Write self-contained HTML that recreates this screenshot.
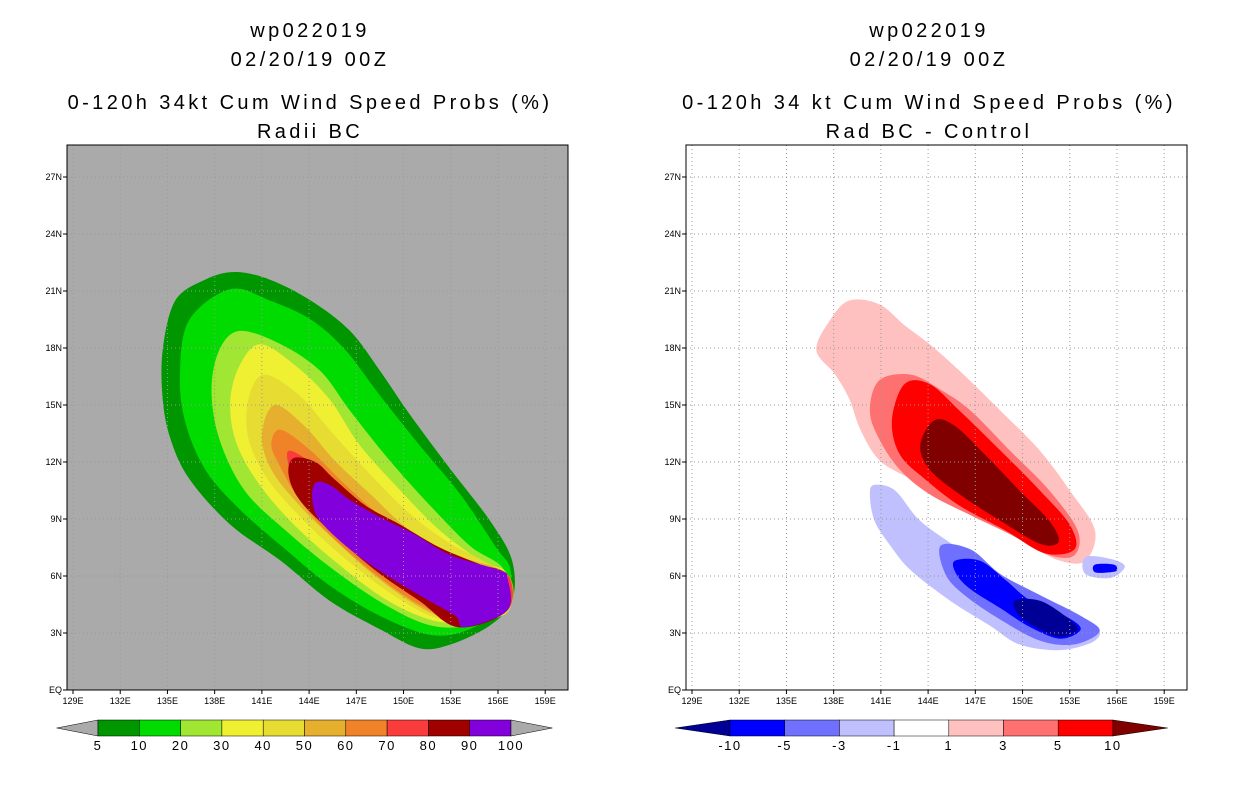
<!DOCTYPE html>
<html><head><meta charset="utf-8"><style>
body{margin:0;background:#fff;width:1236px;height:800px;overflow:hidden}
svg{display:block}
text{font-family:"Liberation Sans",sans-serif}
</style></head><body>
<svg id="chart" width="1236" height="800"></svg>
<script>
const lonTicks=[129,132,135,138,141,144,147,150,153,156,159];
const latTicks=[0,3,6,9,12,15,18,21,24,27];
const lonTickLabels=["129E","132E","135E","138E","141E","144E","147E","150E","153E","156E","159E"];
const latTickLabels=["EQ","3N","6N","9N","12N","15N","18N","21N","24N","27N"];
const leftLevels=["5","10","20","30","40","50","60","70","80","90","100"];
const rightLevels=["-10","-5","-3","-1","1","3","5","10"];
const leftColors=["#009600","#00dc00","#a0e632","#f0f032","#e6dc32","#e6af2d","#f08228","#fa3c3c","#a00000","#8200dc"];
const rightColors=["#000096","#0000ff","#7070ff","#c0c0ff","#ffffff","#ffc0c0","#ff7070","#ff0000","#800000"];
const p5=[[139.3,22.0],[141.5,21.6],[144.1,20.5],[146.6,18.9],[148.5,16.8],[150.4,14.5],[153.0,11.6],[155.5,8.9],[156.9,6.8],[156.9,4.7],[155.5,3.4],[153.0,2.4],[151.0,2.2],[148.5,3.2],[145.3,4.7],[142.2,6.8],[139.0,8.7],[136.4,11.1],[135.2,13.2],[134.7,15.3],[134.7,17.9],[135.5,20.5],[137.4,21.6]];
const p10=[[139.0,21.1],[141.5,20.5],[144.1,19.5],[146.3,17.9],[148.5,15.5],[151.0,12.9],[153.6,10.3],[155.8,7.6],[156.8,6.3],[156.4,4.5],[154.2,3.2],[151.7,2.9],[148.5,3.9],[145.3,5.5],[142.5,7.4],[139.6,9.5],[137.4,11.6],[136.1,14.2],[135.8,16.8],[136.4,19.5]];
const p20=[[139.6,18.9],[142.2,18.2],[144.7,16.8],[146.6,14.7],[149.1,12.1],[151.7,9.7],[154.2,7.6],[156.4,6.3],[156.4,4.2],[154.2,3.4],[151.7,3.4],[148.8,4.5],[145.6,6.3],[142.5,8.4],[139.9,10.5],[138.3,13.2],[137.8,15.8],[138.3,17.9]];
const p30=[[140.9,18.2],[143.1,17.1],[145.3,15.3],[147.2,12.9],[149.8,10.5],[152.3,8.4],[154.9,6.8],[156.6,6.1],[156.6,4.1],[153.9,3.6],[151.7,3.7],[148.8,4.8],[145.6,6.8],[142.8,8.9],[140.6,11.1],[139.3,13.2],[139.0,15.3],[139.6,17.1]];
const p40=[[141.2,16.6],[143.4,15.5],[145.3,13.7],[147.6,11.6],[150.1,9.5],[152.6,7.9],[155.5,6.6],[156.6,5.9],[156.6,4.1],[153.6,3.7],[151.7,3.9],[148.8,5.3],[145.6,7.4],[143.1,9.4],[141.2,11.3],[140.1,13.4],[140.2,15.5]];
const p50=[[141.8,15.0],[143.7,13.9],[145.6,12.1],[147.9,10.3],[150.4,8.4],[153.3,7.1],[156.6,6.1],[156.6,4.2],[153.6,3.7],[151.4,4.2],[148.5,5.8],[145.6,7.9],[143.4,9.7],[141.6,11.6],[141.0,13.4]];
const p60=[[142.2,13.7],[144.1,12.6],[146.3,10.8],[148.5,9.2],[151.0,7.9],[153.9,6.8],[156.6,6.1],[156.6,4.2],[153.6,3.7],[151.0,4.5],[148.2,6.1],[145.3,8.2],[143.4,10.0],[142.2,11.7],[141.6,12.9]];
const p70=[[142.8,12.6],[144.7,11.6],[146.6,10.0],[149.1,8.7],[151.7,7.5],[154.2,6.6],[156.6,6.1],[156.6,4.2],[153.6,3.8],[151.0,4.7],[147.9,6.6],[145.0,8.7],[143.3,10.5],[142.7,11.8]];
const p80=[[143.0,12.2],[144.4,12.0],[145.6,11.1],[147.6,9.7],[149.8,8.7],[152.3,7.5],[154.9,6.6],[156.4,6.1],[156.6,4.2],[153.5,3.3],[151.0,4.7],[148.2,6.3],[145.3,8.4],[143.4,10.0],[142.7,11.3]];
const p90=[[144.4,10.9],[145.3,10.8],[146.6,10.0],[148.5,9.1],[150.7,8.2],[153.0,7.1],[156.1,6.3],[156.6,5.9],[156.6,4.2],[153.9,3.3],[153.3,3.9],[151.4,4.8],[148.8,6.1],[146.6,7.4],[144.7,8.9],[144.2,10.0]];
const r1=[[139.0,20.5],[140.9,20.3],[142.5,19.2],[144.1,18.2],[146.0,16.8],[148.6,14.7],[151.1,12.6],[153.0,10.5],[154.6,8.4],[154.0,6.8],[152.4,6.8],[150.5,7.6],[147.9,8.9],[145.4,10.0],[142.9,11.1],[140.9,12.1],[139.7,13.7],[139.0,15.3],[138.1,16.6],[136.9,17.9],[137.8,19.5]];
const r3=[[140.9,16.3],[142.9,16.6],[144.8,15.8],[146.7,14.7],[149.2,12.6],[151.7,10.5],[153.5,8.4],[153.3,7.1],[151.7,7.1],[149.2,8.2],[146.7,9.2],[144.1,10.3],[142.2,11.6],[140.9,13.2],[140.3,14.7]];
const r5=[[142.5,16.1],[144.1,16.1],[146.0,14.7],[148.6,12.6],[151.1,10.5],[153.0,8.7],[153.3,7.4],[151.4,7.2],[148.9,8.4],[146.0,9.7],[143.8,11.1],[142.2,12.4],[141.7,14.2]];
const r10=[[144.4,14.2],[145.7,13.9],[147.6,12.4],[149.8,10.5],[151.7,8.9],[152.3,7.8],[151.1,7.7],[148.6,8.9],[146.0,10.3],[144.1,11.6],[143.5,12.9]];
const b1=[[140.6,10.8],[141.9,10.5],[143.5,8.9],[146.0,7.4],[148.6,5.8],[151.7,4.7],[154.6,3.4],[154.6,2.6],[152.4,2.1],[149.8,2.4],[147.9,3.4],[145.4,4.7],[142.9,6.3],[141.6,7.6],[140.6,8.9],[140.3,10.3]];
const b1s=[[154.0,7.0],[155.6,6.9],[156.5,6.5],[155.6,5.9],[154.0,6.1]];
const b5s=[[154.6,6.6],[155.8,6.6],[156.0,6.3],[155.6,6.2],[154.6,6.2]];
const b3=[[144.8,7.6],[146.7,7.4],[148.6,6.1],[151.1,5.0],[153.7,3.9],[154.9,3.1],[153.3,2.4],[151.1,2.6],[148.6,3.7],[146.3,5.0],[145.1,6.1]];
const b5=[[145.7,6.8],[147.3,6.8],[148.9,5.8],[150.5,4.7],[152.7,3.9],[153.7,3.2],[152.4,2.7],[150.5,3.3],[148.6,4.3],[146.7,5.3],[145.8,6.1]];
const b10=[[149.5,4.7],[151.1,4.7],[152.7,3.9],[153.5,3.2],[152.4,2.8],[151.1,3.2],[149.8,3.9]];

const NS="http://www.w3.org/2000/svg";
const svg=document.getElementById('chart');
function mk(tag,attrs,parent){const e=document.createElementNS(NS,tag);for(const k in attrs)e.setAttribute(k,attrs[k]);(parent||svg).appendChild(e);return e;}
function xScale(lon,off){return off+73+(lon-129)*15.74;}
function yScale(lat){return 690-lat*19;}
function smoothPath(pts,off){
  const P=pts.map(p=>[xScale(p[0],off),yScale(p[1])]);const n=P.length;let d=`M${P[0][0]},${P[0][1]}`;
  for(let i=0;i<n;i++){const p0=P[(i-1+n)%n],p1=P[i],p2=P[(i+1)%n],p3=P[(i+2)%n];
    const c1=[p1[0]+(p2[0]-p0[0])/6,p1[1]+(p2[1]-p0[1])/6],c2=[p2[0]-(p3[0]-p1[0])/6,p2[1]-(p3[1]-p1[1])/6];
    d+=`C${c1[0]},${c1[1]} ${c2[0]},${c2[1]} ${p2[0]},${p2[1]}`;}
  return d+'Z';}

function panel(off,bg,layers,title2,title4,names){
  const g=mk('g',{});
  
  
  const t=[["wp022019",37],["02/20/19 00Z",66],[title2,109],[title4,138]];
  t.forEach((tt,i)=>{const e=mk('text',{x:off+310,y:tt[1],'text-anchor':'middle','font-size':'20','letter-spacing':'3.4',fill:'#000'},g);e.textContent=tt[0];
    
    });
  const cp=mk('clipPath',{id:'cp'+off},g);mk('rect',{x:off+67,y:145,width:501,height:545},cp);
  const bgR=mk('rect',{x:off+67,y:145,width:501,height:545,fill:bg},g);
  
  
  const lg=mk('g',{'clip-path':`url(#cp${off})`},g);
  layers.forEach((L,i)=>{const p=mk('path',{d:smoothPath(L[0],off),fill:L[1]},lg);
    
    });
  lonTicks.forEach((lon,i)=>{const x=xScale(lon,off);
    mk('line',{x1:x,y1:145,x2:x,y2:690,stroke:'#999','stroke-dasharray':'1,3','stroke-width':1},g);
    mk('line',{x1:x,y1:690,x2:x,y2:694,stroke:'#000'},g);
    const e=mk('text',{x:x,y:704,'text-anchor':'middle','font-size':'9'},g);e.textContent=lonTickLabels[i];
    
    });
  latTicks.forEach((lat,i)=>{const y=yScale(lat);
    if(lat>0)mk('line',{x1:off+67,y1:y,x2:off+568,y2:y,stroke:'#999','stroke-dasharray':'1,3','stroke-width':1},g);
    mk('line',{x1:off+63,y1:y,x2:off+67,y2:y,stroke:'#000'},g);
    const e=mk('text',{x:off+62,y:y+3,'text-anchor':'end','font-size':'9'},g);e.textContent=latTickLabels[i];
    
    });
  mk('rect',{x:off+67,y:145,width:501,height:545,fill:'none',stroke:'#000','stroke-width':1},g);
  return g;
}
panel(0,'#aaaaaa',[[p5,leftColors[0]],[p10,leftColors[1]],[p20,leftColors[2]],[p30,leftColors[3]],[p40,leftColors[4]],[p50,leftColors[5]],[p60,leftColors[6]],[p70,leftColors[7]],[p80,leftColors[8]],[p90,leftColors[9]]],"0-120h 34kt Cum Wind Speed Probs (%)","Radii BC","left");
panel(619,'#ffffff',[[r1,rightColors[5]],[r3,rightColors[6]],[r5,rightColors[7]],[r10,rightColors[8]],[b1,rightColors[3]],[b1s,rightColors[3]],[b5s,rightColors[1]],[b3,rightColors[2]],[b5,rightColors[1]],[b10,rightColors[0]]],"0-120h 34 kt Cum Wind Speed Probs (%)","Rad BC - Control","right");

function colorbar(x0,bw,labels,colors,triL,triR,name){
  const g=mk('g',{});
  
  
  const y0=720,h=16,nb=labels.length-1;
  mk('polygon',{points:`${x0-bw},${y0+h/2} ${x0},${y0} ${x0},${y0+h}`,fill:triL,stroke:'#000','stroke-width':0.5},g);
  for(let i=0;i<nb;i++){mk('rect',{x:x0+i*bw,y:y0,width:bw,height:h,fill:colors[i],stroke:'#000','stroke-width':0.5},g);}
  const xe=x0+nb*bw;
  mk('polygon',{points:`${xe},${y0} ${xe+bw},${y0+h/2} ${xe},${y0+h}`,fill:triR,stroke:'#000','stroke-width':0.5},g);
  labels.forEach((l,i)=>{const e=mk('text',{x:x0+i*bw,y:750,'text-anchor':'middle','font-size':'13','letter-spacing':'1.5'},g);e.textContent=l;
    
    });
}
colorbar(98,41.3,leftLevels,leftColors,'#aaaaaa','#aaaaaa','left-colorbar');
colorbar(730,54.7,rightLevels,rightColors.slice(1,8),rightColors[0],rightColors[8],'right-colorbar');
</script>
</body></html>
